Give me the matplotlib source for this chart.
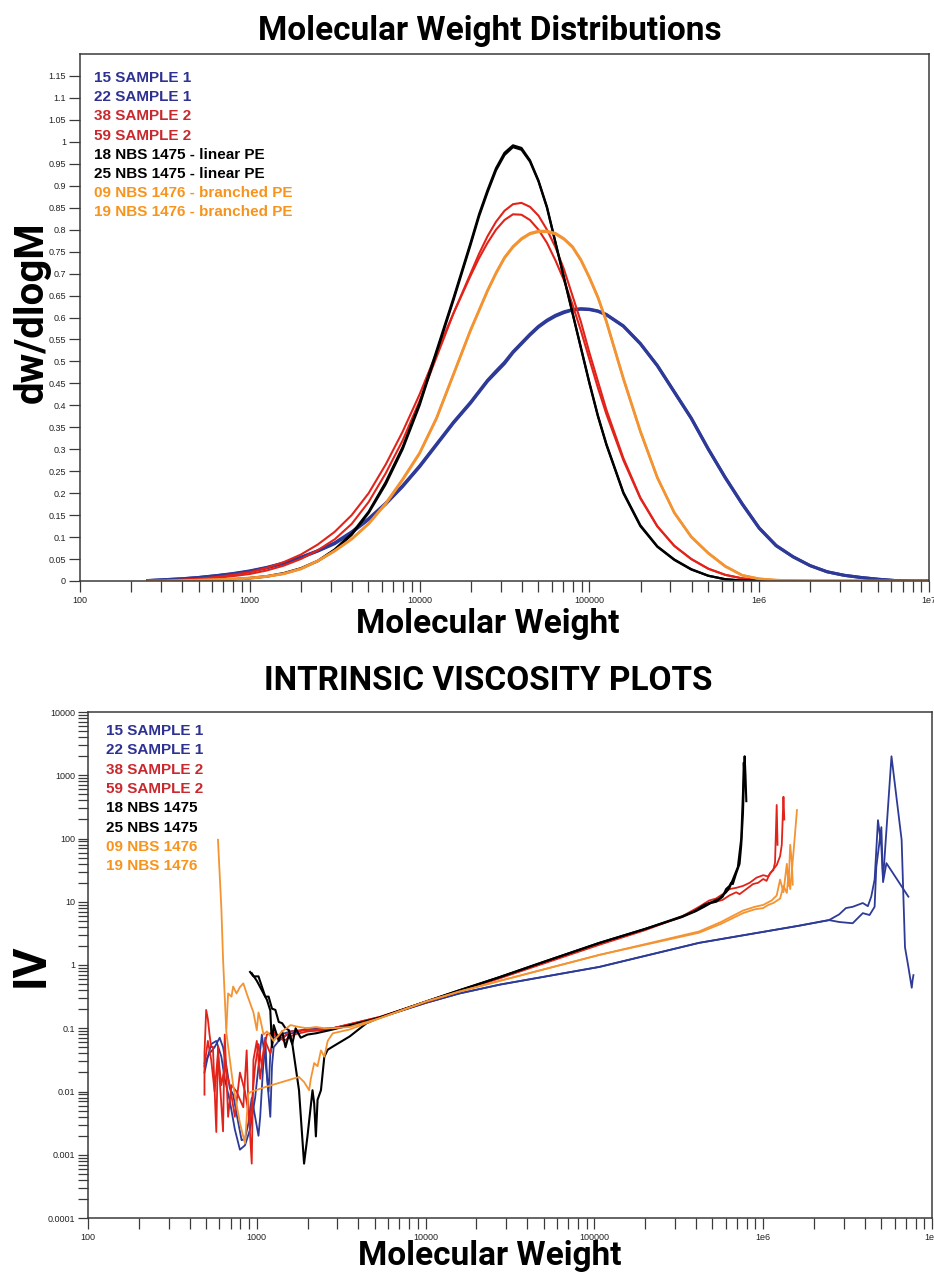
import numpy as np
import matplotlib
matplotlib.use("Agg")
import matplotlib.pyplot as plt
from matplotlib.ticker import LogLocator, FixedLocator, NullFormatter, FixedFormatter

# ---------------- DATA : Molecular weight distributions ----------------
mwd_logm = [2.4, 2.5, 2.6, 2.7, 2.8, 2.9, 3.0, 3.1, 3.2, 3.3, 3.4, 3.5, 3.6, 3.7, 3.8, 3.9, 4.0, 4.1, 4.2, 4.3,
            4.35, 4.4, 4.45, 4.5, 4.55, 4.6, 4.65, 4.7, 4.75, 4.8, 4.85, 4.9, 4.95, 5.0, 5.05, 5.1,
            5.2, 5.3, 5.4, 5.5, 5.6, 5.7, 5.8, 5.9, 6.0, 6.1, 6.2, 6.3, 6.4, 6.5, 6.6, 6.7, 6.8, 6.9, 7.0]

mwd_15_sample1 = [0.001, 0.003, 0.005, 0.008, 0.012, 0.016, 0.022, 0.03, 0.04, 0.053, 0.068, 0.085, 0.11, 0.14, 0.175, 0.215, 0.26, 0.31, 0.36, 0.405,
                  0.43, 0.455, 0.475, 0.495, 0.52, 0.54, 0.56, 0.578, 0.592, 0.603, 0.611, 0.617, 0.619, 0.618, 0.614, 0.606,
                  0.58, 0.54, 0.49, 0.43, 0.37, 0.30, 0.235, 0.175, 0.12, 0.08, 0.055, 0.035, 0.021, 0.013, 0.008, 0.004, 0.001, 0.0, 0.0]
mwd_22_sample1 = [0.001, 0.003, 0.005, 0.008, 0.012, 0.017, 0.023, 0.031, 0.041, 0.054, 0.069, 0.087, 0.112, 0.142, 0.177, 0.217, 0.262, 0.312, 0.362, 0.407,
                  0.432, 0.457, 0.478, 0.498, 0.522, 0.542, 0.562, 0.58, 0.594, 0.605, 0.613, 0.618, 0.62, 0.619, 0.615, 0.607,
                  0.581, 0.541, 0.491, 0.431, 0.371, 0.301, 0.236, 0.176, 0.121, 0.081, 0.055, 0.035, 0.021, 0.013, 0.008, 0.004, 0.001, 0.0, 0.0]
mwd_38_sample2 = [0.0, 0.001, 0.002, 0.004, 0.007, 0.011, 0.016, 0.024, 0.035, 0.05, 0.07, 0.095, 0.13, 0.18, 0.245, 0.32, 0.41, 0.51, 0.61, 0.70,
                  0.745, 0.785, 0.818, 0.843, 0.858, 0.861, 0.852, 0.832, 0.80, 0.76, 0.71, 0.65, 0.59, 0.52, 0.455, 0.39,
                  0.28, 0.19, 0.125, 0.08, 0.05, 0.028, 0.014, 0.006, 0.002, 0.001, 0.0, 0.0, 0.0, 0.0, 0.0, 0.0, 0.0, 0.0, 0.0]
mwd_59_sample2 = [0.0, 0.001, 0.003, 0.005, 0.009, 0.014, 0.02, 0.03, 0.043, 0.06, 0.083, 0.112, 0.15, 0.20, 0.265, 0.34, 0.425, 0.52, 0.61, 0.695,
                  0.735, 0.77, 0.80, 0.822, 0.835, 0.834, 0.822, 0.80, 0.77, 0.73, 0.685, 0.63, 0.57, 0.505, 0.44, 0.38,
                  0.275, 0.188, 0.124, 0.08, 0.05, 0.028, 0.014, 0.006, 0.002, 0.001, 0.0, 0.0, 0.0, 0.0, 0.0, 0.0, 0.0, 0.0, 0.0]
mwd_18_nbs1475 = [0.0, 0.0, 0.0, 0.001, 0.002, 0.004, 0.006, 0.01, 0.017, 0.028, 0.045, 0.07, 0.105, 0.155, 0.22, 0.30, 0.40, 0.52, 0.64, 0.765,
                  0.83, 0.885, 0.935, 0.97, 0.988, 0.982, 0.955, 0.91, 0.85, 0.77, 0.69, 0.61, 0.53, 0.45, 0.375, 0.31,
                  0.20, 0.125, 0.078, 0.048, 0.026, 0.012, 0.004, 0.001, 0.0, 0.0, 0.0, 0.0, 0.0, 0.0, 0.0, 0.0, 0.0, 0.0, 0.0]
mwd_25_nbs1475 = [0.0, 0.0, 0.0, 0.001, 0.002, 0.004, 0.007, 0.011, 0.018, 0.029, 0.046, 0.072, 0.108, 0.158, 0.225, 0.305, 0.405, 0.525, 0.645, 0.77,
                  0.835, 0.89, 0.94, 0.975, 0.992, 0.986, 0.958, 0.912, 0.852, 0.772, 0.692, 0.612, 0.532, 0.452, 0.377, 0.312,
                  0.202, 0.127, 0.079, 0.049, 0.027, 0.012, 0.004, 0.001, 0.0, 0.0, 0.0, 0.0, 0.0, 0.0, 0.0, 0.0, 0.0, 0.0, 0.0]
mwd_09_nbs1476 = [0.0, 0.0, 0.001, 0.002, 0.003, 0.004, 0.006, 0.01, 0.016, 0.027, 0.045, 0.068, 0.095, 0.13, 0.175, 0.23, 0.29, 0.37, 0.47, 0.57,
                  0.615, 0.66, 0.70, 0.735, 0.76, 0.778, 0.79, 0.795, 0.795, 0.79, 0.778, 0.76, 0.73, 0.69, 0.645, 0.59,
                  0.46, 0.34, 0.235, 0.155, 0.10, 0.063, 0.033, 0.013, 0.005, 0.002, 0.001, 0.0, 0.0, 0.0, 0.0, 0.0, 0.0, 0.0, 0.0]
mwd_19_nbs1476 = [0.0, 0.0, 0.001, 0.002, 0.003, 0.005, 0.007, 0.011, 0.017, 0.028, 0.046, 0.069, 0.096, 0.131, 0.177, 0.232, 0.292, 0.372, 0.472, 0.572,
                  0.617, 0.662, 0.702, 0.737, 0.762, 0.78, 0.792, 0.797, 0.797, 0.792, 0.78, 0.762, 0.732, 0.692, 0.647, 0.592,
                  0.462, 0.342, 0.236, 0.156, 0.101, 0.064, 0.034, 0.013, 0.005, 0.002, 0.001, 0.0, 0.0, 0.0, 0.0, 0.0, 0.0, 0.0, 0.0]

mwd_labels = ["15 SAMPLE 1", "22 SAMPLE 1", "38 SAMPLE 2", "59 SAMPLE 2",
              "18 NBS 1475 - linear PE", "25 NBS 1475 - linear PE",
              "09 NBS 1476 - branched PE", "19 NBS 1476 - branched PE"]

# ---------------- DATA : Intrinsic viscosity (log10 M, log10 IV) ----------------
iv_15_logm = [2.69, 2.72, 2.75, 2.78, 2.80, 2.82, 2.84, 2.86, 2.88, 2.91, 2.93, 2.95, 2.97, 2.99, 3.01, 3.02, 3.04, 3.05, 3.06, 3.08, 3.09, 3.10,
              3.13, 3.18, 3.25, 3.3, 3.4, 3.45, 3.6, 3.73, 4.0, 4.2, 4.44, 5.03, 5.62, 6.21, 6.39, 6.45, 6.49, 6.53, 6.56, 6.59, 6.62, 6.64,
              6.66, 6.68, 6.70, 6.71, 6.76, 6.82, 6.84, 6.86, 6.88, 6.885, 6.89]
iv_15_logv = [-1.55, -1.40, -1.30, -1.15, -1.30, -1.60, -1.95, -2.05, -2.35, -2.77, -2.75, -2.50, -2.10, -2.40, -2.70, -2.40, -1.50, -1.15, -1.75, -2.40, -1.60, -1.30,
              -1.20, -1.10, -1.05, -1.00, -1.02, -1.00, -0.92, -0.83, -0.60, -0.45, -0.31, -0.03, 0.35, 0.62, 0.71, 0.80, 0.90, 0.92, 0.95, 0.98, 0.93, 1.08,
              1.35, 2.29, 1.87, 1.35, 3.30, 1.98, 0.28, -0.03, -0.36, -0.24, -0.16]
iv_22_logm = [2.69, 2.71, 2.73, 2.76, 2.79, 2.81, 2.84, 2.87, 2.90, 2.93, 2.96, 2.99, 3.01, 3.03, 3.05, 3.07, 3.08, 3.10, 3.14, 3.2, 3.3, 3.45,
              3.6, 3.73, 4.0, 4.2, 4.44, 5.03, 5.62, 6.21, 6.39, 6.45, 6.53, 6.59, 6.63, 6.66, 6.67, 6.70, 6.71, 6.73, 6.86]
iv_22_logv = [-1.70, -1.45, -1.25, -1.20, -1.45, -1.80, -2.15, -2.60, -2.92, -2.85, -2.60, -2.10, -1.60, -1.10, -1.50, -2.00, -1.40, -1.15, -1.10, -1.05, -1.02, -1.00,
              -0.92, -0.83, -0.60, -0.45, -0.31, -0.03, 0.35, 0.62, 0.71, 0.68, 0.66, 0.82, 0.79, 0.92, 1.55, 2.18, 1.31, 1.61, 1.08]
iv_38_logm = [2.69, 2.69, 2.70, 2.71, 2.72, 2.73, 2.74, 2.76, 2.77, 2.78, 2.80, 2.81, 2.83, 2.85, 2.88, 2.92, 2.94, 2.95, 2.97, 2.98, 3.0, 3.02,
              3.04, 3.06, 3.10, 3.16, 3.22, 3.3, 3.4, 3.45, 3.73, 4.0, 4.44, 5.03, 5.3, 5.52, 5.62, 5.68, 5.72, 5.76, 5.8, 5.84, 5.86, 5.9,
              5.94, 5.97, 6.0, 6.02, 6.04, 6.06, 6.07, 6.08, 6.085]
iv_38_logv = [-2.05, -1.40, -0.71, -0.85, -1.10, -1.30, -1.29, -2.64, -1.29, -1.80, -2.63, -1.10, -2.40, -1.90, -2.00, -2.25, -1.35, -2.20, -3.14, -1.50, -1.20, -1.80,
              -1.35, -1.10, -1.06, -1.20, -1.10, -1.05, -1.03, -1.00, -0.82, -0.58, -0.20, 0.33, 0.56, 0.76, 0.90, 0.98, 1.00, 1.03, 1.10, 1.15, 1.12, 1.20,
              1.28, 1.30, 1.36, 1.33, 1.45, 1.50, 1.62, 2.53, 1.90]
iv_59_logm = [2.69, 2.71, 2.73, 2.75, 2.77, 2.79, 2.81, 2.84, 2.87, 2.90, 2.93, 2.96, 2.99, 3.01, 3.03, 3.05, 3.08, 3.10, 3.15, 3.2, 3.3, 3.45,
              3.73, 4.0, 4.44, 5.03, 5.3, 5.52, 5.62, 5.68, 5.72, 5.76, 5.8, 5.84, 5.88, 5.92, 5.96, 6.0, 6.03, 6.05, 6.08, 6.1, 6.11, 6.12, 6.125]
iv_59_logv = [-1.60, -1.20, -1.50, -2.00, -1.40, -1.90, -1.60, -1.90, -2.40, -1.70, -2.00, -2.50, -1.60, -1.25, -1.60, -1.20, -1.40, -1.10, -1.15, -1.05, -1.03, -1.00,
              -0.82, -0.59, -0.21, 0.32, 0.55, 0.77, 0.92, 1.02, 1.05, 1.12, 1.20, 1.22, 1.25, 1.30, 1.38, 1.42, 1.40, 1.48, 1.58, 1.72, 1.90, 2.66, 2.30]
iv_18_logm = [2.96, 2.98, 3.01, 3.03, 3.05, 3.07, 3.09, 3.11, 3.13, 3.15, 3.17, 3.19, 3.21, 3.25, 3.28, 3.30, 3.33, 3.34, 3.35, 3.36, 3.38, 3.40,
              3.42, 3.45, 3.55, 3.65, 3.73, 4.0, 4.2, 4.44, 4.7, 5.03, 5.3, 5.52, 5.6, 5.65, 5.69, 5.72, 5.76, 5.78, 5.8, 5.81, 5.82, 5.84,
              5.86, 5.87, 5.88, 5.89, 5.895, 5.90]
iv_18_logv = [-0.11, -0.18, -0.18, -0.34, -0.50, -0.50, -0.69, -0.71, -0.90, -0.92, -1.00, -1.03, -1.24, -1.98, -3.14, -2.71, -1.98, -2.19, -2.71, -2.13, -1.98, -1.45,
              -1.34, -1.29, -1.13, -0.92, -0.83, -0.58, -0.40, -0.19, 0.05, 0.35, 0.57, 0.76, 0.85, 0.92, 0.98, 1.00, 1.08, 1.20, 1.25, 1.30, 1.28, 1.45,
              1.60, 1.90, 2.40, 3.30, 3.00, 2.59]
iv_25_logm = [2.97, 3.0, 3.03, 3.06, 3.08, 3.09, 3.10, 3.13, 3.15, 3.17, 3.19, 3.21, 3.23, 3.26, 3.3, 3.35, 3.4, 3.45, 3.6, 3.73, 4.0, 4.2,
              4.44, 4.7, 5.03, 5.3, 5.52, 5.6, 5.65, 5.7, 5.74, 5.78, 5.8, 5.82, 5.85, 5.87, 5.88, 5.885, 5.89]
iv_25_logv = [-0.13, -0.25, -0.40, -0.55, -0.72, -1.30, -0.95, -1.20, -1.05, -1.30, -1.10, -1.25, -1.00, -1.15, -1.10, -1.08, -1.05, -1.02, -0.92, -0.83, -0.58, -0.40,
              -0.19, 0.05, 0.35, 0.57, 0.77, 0.86, 0.95, 1.00, 1.05, 1.15, 1.22, 1.35, 1.55, 2.00, 2.70, 3.20, 2.90]
iv_09_logm = [2.77, 2.79, 2.80, 2.81, 2.82, 2.86, 2.90, 2.93, 2.95, 2.97, 3.05, 3.15, 3.25, 3.28, 3.31, 3.32, 3.34, 3.36, 3.38, 3.40, 3.42, 3.45,
              3.55, 3.65, 3.73, 4.0, 4.2, 4.44, 5.03, 5.62, 5.75, 5.88, 5.95, 6.0, 6.03, 6.06, 6.1, 6.12, 6.14, 6.15, 6.16, 6.18, 6.2]
iv_09_logv = [1.98, 0.90, 0.10, -0.50, -1.08, -1.90, -2.50, -2.82, -2.03, -2.00, -1.93, -1.85, -1.77, -1.85, -1.98, -1.80, -1.55, -1.60, -1.35, -1.45, -1.20, -1.08,
              -1.02, -0.92, -0.84, -0.58, -0.42, -0.25, 0.16, 0.51, 0.65, 0.82, 0.88, 0.90, 0.95, 0.98, 1.05, 1.25, 1.14, 1.45, 1.20, 1.80, 2.45]
iv_19_logm = [2.82, 2.83, 2.85, 2.86, 2.88, 2.90, 2.92, 2.94, 2.96, 2.98, 3.0, 3.01, 3.02, 3.04, 3.06, 3.10, 3.15, 3.2, 3.25, 3.3, 3.35, 3.4,
              3.45, 3.55, 3.73, 4.0, 4.2, 4.44, 5.03, 5.62, 5.75, 5.88, 5.95, 6.0, 6.05, 6.08, 6.1, 6.12, 6.14, 6.15, 6.16, 6.17, 6.175]
iv_19_logv = [-1.00, -0.45, -0.50, -0.34, -0.45, -0.35, -0.29, -0.45, -0.60, -0.75, -1.03, -0.75, -0.85, -1.10, -1.05, -1.20, -1.05, -0.95, -0.98, -1.00, -0.98, -1.00,
              -1.00, -0.98, -0.84, -0.58, -0.42, -0.25, 0.16, 0.53, 0.68, 0.86, 0.92, 0.95, 1.02, 1.10, 1.35, 1.15, 1.60, 1.25, 1.90, 1.61, 1.27]

iv_labels = ["15 SAMPLE 1", "22 SAMPLE 1", "38 SAMPLE 2", "59 SAMPLE 2",
             "18 NBS 1475", "25 NBS 1475", "09 NBS 1476", "19 NBS 1476"]

mwd_yticks = [0, 0.05, 0.1, 0.15, 0.2, 0.25, 0.3, 0.35, 0.4, 0.45, 0.5, 0.55, 0.6, 0.65, 0.7, 0.75,
              0.8, 0.85, 0.9, 0.95, 1, 1.05, 1.1, 1.15]
mwd_yticklabels = ["0", "0.05", "0.1", "0.15", "0.2", "0.25", "0.3", "0.35", "0.4", "0.45", "0.5", "0.55",
                   "0.6", "0.65", "0.7", "0.75", "0.8", "0.85", "0.9", "0.95", "1", "1.05", "1.1", "1.15"]
x_ticks = [100, 1000, 10000, 100000, 1e6, 1e7]
x_ticklabels = ["100", "1000", "10000", "100000", "1e6", "1e7"]
iv_yticks = [1e-4, 1e-3, 1e-2, 1e-1, 1, 10, 100, 1000, 10000]
iv_yticklabels = ["0.0001", "0.001", "0.01", "0.1", "1", "10", "100", "1000", "10000"]

# ---------------- STYLE ----------------
BLUE = "#2e3a97"
RED = "#e2231a"
BLACK = "#000000"
ORANGE = "#f39332"
TXT_BLUE = "#2e3192"
TXT_RED = "#c9282d"
TXT_ORANGE = "#f7941d"
line_cols = [BLUE, BLUE, RED, RED, BLACK, BLACK, ORANGE, ORANGE]
txt_cols = [TXT_BLUE, TXT_BLUE, TXT_RED, TXT_RED, BLACK, BLACK, TXT_ORANGE, TXT_ORANGE]

plt.rcParams["font.family"] = ["Liberation Sans", "DejaVu Sans"]
BIG = ["Roboto", "Liberation Sans", "DejaVu Sans"]

W, H = 934, 1275
fig = plt.figure(figsize=(W / 100, H / 100), dpi=100)


def fx(px):
    return px / W


def fy(py):
    return 1 - py / H


def style_axes(ax, ylen):
    for s in ax.spines.values():
        s.set_color("#3a3a3a")
        s.set_linewidth(1.1)
    ax.tick_params(axis="both", which="both", direction="out", colors="#3a3a3a",
                   labelcolor="#222222", labelsize=6.5, width=0.9)
    ax.tick_params(axis="x", which="both", length=8, pad=3)
    ax.tick_params(axis="y", which="both", length=ylen, pad=2)


# ---------------- TOP: MWD ----------------
ax1 = fig.add_axes([fx(80), fy(581), fx(929) - fx(80), fy(54) - fy(581)])
mwd_m = 10 ** np.array(mwd_logm)
mwd_series = [mwd_15_sample1, mwd_22_sample1, mwd_38_sample2, mwd_59_sample2,
              mwd_18_nbs1475, mwd_25_nbs1475, mwd_09_nbs1476, mwd_19_nbs1476]
mwd_lw = [2.2, 2.2, 1.5, 1.5, 1.6, 1.6, 1.8, 1.8]
for vals, c, lw in zip(mwd_series, line_cols, mwd_lw):
    ax1.plot(mwd_m, vals, color=c, lw=lw, solid_joinstyle="round")
ax1.set_xscale("log")
ax1.set_xlim(100, 1e7)
ax1.set_ylim(0, 1.2)
ax1.xaxis.set_major_locator(FixedLocator(x_ticks))
ax1.xaxis.set_major_formatter(FixedFormatter(x_ticklabels))
ax1.xaxis.set_minor_locator(LogLocator(base=10, subs=np.arange(2, 10)))
ax1.xaxis.set_minor_formatter(NullFormatter())
ax1.yaxis.set_major_locator(FixedLocator(mwd_yticks))
ax1.yaxis.set_major_formatter(FixedFormatter(mwd_yticklabels))
style_axes(ax1, 8)

for i, (lab, c) in enumerate(zip(mwd_labels, txt_cols)):
    fig.text(fx(94), fy(78 + i * 19.2), lab, color=c, fontsize=11, fontweight="bold",
             ha="left", va="center")

fig.text(fx(490), fy(31), "Molecular Weight Distributions", fontsize=24, fontweight="bold",
         family=BIG, ha="center", va="center")
fig.text(fx(488), fy(624), "Molecular Weight", fontsize=24, fontweight="bold",
         family=BIG, ha="center", va="center")
fig.text(fx(32), fy(312), "dw/dlogM", fontsize=29, fontweight="bold", rotation=90,
         family=BIG, ha="center", va="center")

# ---------------- BOTTOM: IV ----------------
ax2 = fig.add_axes([fx(88), fy(1218), fx(932) - fx(88), fy(712) - fy(1218)])
iv_series = [(iv_15_logm, iv_15_logv), (iv_22_logm, iv_22_logv),
             (iv_38_logm, iv_38_logv), (iv_59_logm, iv_59_logv),
             (iv_18_logm, iv_18_logv), (iv_25_logm, iv_25_logv),
             (iv_09_logm, iv_09_logv), (iv_19_logm, iv_19_logv)]
iv_lw = [1.3, 1.3, 1.3, 1.3, 1.5, 1.5, 1.3, 1.3]
for (lm, lv), c, lw in zip(iv_series, line_cols, iv_lw):
    ax2.plot(10 ** np.array(lm), 10 ** np.array(lv), color=c, lw=lw)
ax2.set_xscale("log")
ax2.set_yscale("log")
ax2.set_xlim(100, 1e7)
ax2.set_ylim(1e-4, 1e4)
ax2.xaxis.set_major_locator(FixedLocator(x_ticks))
ax2.xaxis.set_major_formatter(FixedFormatter(x_ticklabels))
ax2.xaxis.set_minor_locator(LogLocator(base=10, subs=np.arange(2, 10)))
ax2.xaxis.set_minor_formatter(NullFormatter())
ax2.yaxis.set_major_locator(FixedLocator(iv_yticks))
ax2.yaxis.set_major_formatter(FixedFormatter(iv_yticklabels))
ax2.yaxis.set_minor_locator(LogLocator(base=10, subs=np.arange(2, 10)))
ax2.yaxis.set_minor_formatter(NullFormatter())
style_axes(ax2, 7)

for i, (lab, c) in enumerate(zip(iv_labels, txt_cols)):
    fig.text(fx(106), fy(731 + i * 19.3), lab, color=c, fontsize=11, fontweight="bold",
             ha="left", va="center")

fig.text(fx(488), fy(681), "INTRINSIC VISCOSITY PLOTS", fontsize=24, fontweight="bold",
         family=BIG, ha="center", va="center")
fig.text(fx(490), fy(1256), "Molecular Weight", fontsize=24, fontweight="bold",
         family=BIG, ha="center", va="center")
fig.text(fx(31), fy(965), "IV", fontsize=33, fontweight="bold", rotation=90,
         family=BIG, ha="center", va="center")

fig.savefig("out.png", dpi=100, facecolor="white")
